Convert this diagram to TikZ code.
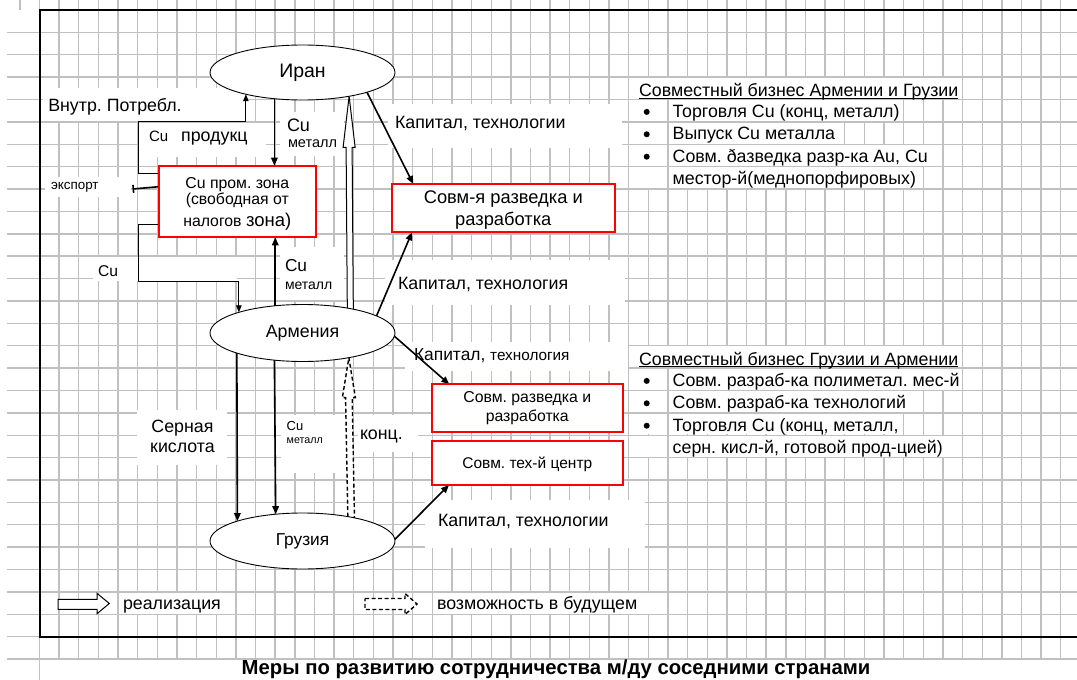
\documentclass[tikz,border=0pt]{standalone}
\usepackage{fontspec}
\setmainfont{Liberation Sans}
\usetikzlibrary{arrows.meta,shapes.geometric,calc}
\definecolor{gridc}{RGB}{192,192,192}
\definecolor{boxred}{RGB}{255,0,0}
\newcommand\fsz[1]{\fontsize{#1}{#1}\selectfont}
\newcommand\wrow[3]{\fill[white] ({#1},{10+22.38*#2+0.75}) rectangle ({#3},{10+22.38*(#2+1)-0.75});}
\pgfdeclarelayer{gridlayer}
\pgfdeclarelayer{conn}
\pgfsetlayers{gridlayer,conn,main}
\tikzset{
  gridl/.style={draw=gridc, line width=1.4pt},
  arr/.style={line width=1.6pt, -{Triangle[length=8pt,width=6.5pt]}},
  tarr/.style={line width=1pt, -{Triangle[length=7pt,width=5.5pt]}},
  blk/.style={draw=black, fill=white, line width=1pt, line join=miter},
  dblk/.style={draw=black, fill=white, line width=1.4pt, dash pattern=on 4pt off 2.5pt},
  ell/.style={ellipse, draw, line width=0.9pt, fill=white, inner sep=0pt, outer sep=0pt, minimum width=185pt},
  rbox/.style={rectangle, draw=boxred, line width=2pt, fill=white, inner sep=0pt, outer sep=0pt},
  lbl/.style={inner sep=0pt, outer sep=0pt, font=\fsz{17.8}},
}
\begin{document}
\frenchspacing
\begin{tikzpicture}[x=1pt,y=-1pt]
\useasboundingbox (0,0) rectangle (1077,680);

% ---------- nodes ----------
\node[ell, minimum height=55pt, font=\fsz{19.5}] (iran) at (302.5,72.5) {Иран};
\node[ell, minimum height=57pt, font=\fsz{17.8}] (arm) at (302.5,333) {Армения};
\node[ell, minimum height=56pt, font=\fsz{17.3}] (geo) at (302.5,541) {Грузия};
\node[rbox, minimum width=157.3pt, minimum height=71.6pt] (zone) at (237.35,201.5) {};
\node[rbox, minimum width=223.3pt, minimum height=48.3pt] (jv1) at (503.35,208.15) {};
\node[rbox, minimum width=191.3pt, minimum height=47.4pt] (jv2) at (527.35,408) {};
\node[rbox, minimum width=191.3pt, minimum height=44.3pt] (jv3) at (527.35,462.85) {};

\coordinate (kA) at (138.3,121.7);
\coordinate (kB) at (138.3,281.2);
\coordinate (expE) at (132.5,189);

% ---------- grid and cell backgrounds ----------
\begin{pgfonlayer}{gridlayer}
\fill[white] (0,0) rectangle (1077,680);
\foreach \k in {1,...,29} \draw[gridl] (7,{10+22.38*\k}) -- (1077,{10+22.38*\k});
\foreach \k in {0,...,52} \draw[gridl] ({39.5+19.64*\k},0) -- ({39.5+19.64*\k},659);
\draw[gridl] (39.5,659) -- (39.5,680);
\draw[gridl] (19.86,0) -- (19.86,10);
% text cells (right blocks)
\wrow{629.45}{3}{961.8}
\foreach \r/\e in {4/902.9,5/844.0,6/942.2,7/922.5} {\wrow{629.45}{\r}{667.25}\wrow{668.75}{\r}{\e}}
\wrow{629.45}{15}{961.8}
\foreach \r/\e in {16/961.8,17/922.5,18/902.9,19/961.8} {\wrow{629.45}{\r}{667.25}\wrow{668.75}{\r}{\e}}
% legend cells
\wrow{118.8}{26}{235.1}
\wrow{433.05}{26}{667.25}
% floating label boxes
\fill[white] (43,88) rectangle (245,121);
\fill[white] (139,122.5) rectangle (266,157);
\fill[white] (280,112) rectangle (344,156);
\fill[white] (45,176.5) rectangle (131,197);
\fill[white] (93,257) rectangle (237,281);
\fill[white] (280,247) rectangle (344,300);
\fill[white] (388,104) rectangle (622,148);
\fill[white] (385,260) rectangle (625,305);
\fill[white] (405,342) rectangle (628,371);
\fill[white] (425,500) rectangle (645,548);
\fill[white] (137,410) rectangle (227,465);
\fill[white] (281,415) rectangle (345,473);
\fill[white] (358,415) rectangle (418,452);
\end{pgfonlayer}

% ---------- connectors ----------
\begin{pgfonlayer}{conn}
\draw[line width=2pt] (1077,10) -- (39.5,10) -- (39.5,636.64) -- (1077,636.64);
\draw[arr] (iran.223.7) -- (zone.north -| iran.223.7);
\draw[arr] (arm.135.3) -- (zone.south -| arm.135.3);
\draw[tarr] ($(zone.north west)+(0,8)$) -| (kA) -| (iran.201.1);
\draw[line width=1.6pt, -{Bar[width=8pt]}] ($(zone.north west)+(0,21)$) -- (expE);
\draw[tarr] ($(zone.south west)+(0,-13)$) -| (kB) -| (arm.162.9);
\draw[arr] (iran.343.2) -- ($(jv1.north west)+(21.6,0)$);
\draw[arr] (arm.13.7) -- ($(jv1.south west)+(20.3,0)$);
\draw[arr] (arm.-2) -- ($(jv2.north west)+(17.6,0)$);
\draw[arr] (geo.1) -- ($(jv3.south west)+(17.3,0)$);
\draw[arr] (arm.197.1) -- (geo.163.2);
\draw[arr] (arm.224.7) -- (geo.135.8);
% realised: Armenia -> Iran
\coordinate (ra0) at (arm.27.24);
\coordinate (ra1) at (iran.333.6);
\draw[blk] ($(ra0)+(-3,6)$) -- ($(ra1)+(-3,51)$) -- ($(ra1)+(-6,51)$) -- (ra1) -- ($(ra1)+(6,51)$) -- ($(ra1)+(3,51)$) -- ($(ra0)+(3,6)$);
% future: Georgia -> Armenia
\coordinate (da0) at (geo.26.83);
\coordinate (da1) at (arm.332.76);
\draw[dblk] ($(da0)+(-3.3,6)$) -- ($(da1)+(-3.3,40)$) -- ($(da1)+(-6.5,40)$) -- (da1) -- ($(da1)+(6.5,40)$) -- ($(da1)+(3.3,40)$) -- ($(da0)+(3.3,6)$);
\end{pgfonlayer}

% ---------- box texts ----------
\node[lbl, font=\fsz{15.8}, anchor=base] (z1) at (237.3,188.3) {Cu пром. зона};
\node[lbl, font=\fsz{15.8}, anchor=base] (z2) at (237.3,204) {(свободная от};
\node[lbl, font=\fsz{15.8}, anchor=base] (z3) at (237.3,226.7) {налогов {\fsz{18.5}зона)}};
\node[lbl, font=\fsz{18.3}, anchor=base] (j1a) at (503.3,203.3) {Совм-я разведка и};
\node[lbl, font=\fsz{18.3}, anchor=base] (j1b) at (503.3,225) {разработка};
\node[lbl, font=\fsz{15.8}, anchor=base] (j2a) at (527.3,402) {Совм. разведка и};
\node[lbl, font=\fsz{15.8}, anchor=base] (j2b) at (527.3,421.5) {разработка};
\node[lbl, font=\fsz{15.5}, anchor=base] (j3a) at (527.3,468) {Совм. тех-й центр};

% ---------- connector labels ----------
\node[lbl, anchor=base west] (lVn) at (48.3,111) {Внутр. Потребл.};
\node[lbl, anchor=base west] (lCp) at (149,141.7) {{\fsz{15}Cu}\hspace{13pt}продукц};
\node[lbl, font=\fsz{18}, anchor=base west] (lCu1) at (287,131) {Cu};
\node[lbl, font=\fsz{14.5}, anchor=base west] (lMe1) at (288,147.3) {металл};
\node[lbl, font=\fsz{13.4}, anchor=base west] (lEx) at (51,189.3) {экспорт};
\node[lbl, font=\fsz{15.6}, anchor=base west] (lCu2) at (98,276) {Cu};
\node[lbl, font=\fsz{17.3}, anchor=base west] (lCu3) at (285,271) {Cu};
\node[lbl, font=\fsz{14}, anchor=base west] (lMe3) at (285,289.3) {металл};
\node[lbl, anchor=base west] (lK1) at (395,128.3) {Капитал, технологии};
\node[lbl, anchor=base west] (lK2) at (398,289.3) {Капитал, технология};
\node[lbl, font=\fsz{17.4}, anchor=base west] (lK3) at (414,360.5) {Капитал, {\fsz{15.3}технология}};
\node[lbl, anchor=base west] (lK4) at (438,526) {Капитал, технологии};
\node[lbl, anchor=base] (lS1) at (182.5,432.7) {Серная};
\node[lbl, anchor=base] (lS2) at (182.5,452.7) {кислота};
\node[lbl, font=\fsz{13}, anchor=base west] (lCu4) at (286.7,430) {Cu};
\node[lbl, font=\fsz{10.7}, anchor=base west] (lMe4) at (286.7,443.3) {металл};
\node[lbl, anchor=base west] (lKo) at (360,439) {конц.};

% ---------- right text blocks ----------
\node[lbl, anchor=base west] (b1t) at (639,96.7) {Совместный бизнес Армении и Грузии};
\draw[line width=1pt] ($(b1t.base west)+(0,1.6)$) -- ($(b1t.base east)+(0,1.6)$);
\node[lbl, anchor=base west] (b1a) at (672.7,117.5) {Торговля Cu (конц, металл)};
\node[lbl, anchor=base west] (b1b) at (672.7,139.9) {Выпуск Cu металла};
\node[lbl, anchor=base west] (b1c) at (672.7,162.3) {Совм. ðазведка разр-ка Au, Cu};
\node[lbl, anchor=base west] (b1d) at (672.7,184.6) {местор-й(меднопорфировых)};
\foreach \yy in {117.5,139.9,162.3} \fill (646.7,\yy-5.6) circle (3pt);

\node[lbl, anchor=base west] (b2t) at (639,365) {Совместный бизнес Грузии и Армении};
\draw[line width=1pt] ($(b2t.base west)+(0,1.6)$) -- ($(b2t.base east)+(0,1.6)$);
\node[lbl, anchor=base west] (b2a) at (672.7,386.5) {Совм. разраб-ка полиметал. мес-й};
\node[lbl, anchor=base west] (b2b) at (672.7,408.9) {Совм. разраб-ка технологий};
\node[lbl, anchor=base west] (b2c) at (672.7,431.3) {Торговля Cu (конц, металл,};
\node[lbl, anchor=base west] (b2d) at (672.7,453.6) {серн. кисл-й, готовой прод-цией)};
\foreach \yy in {386.5,408.9,431.3} \fill (646.7,\yy-5.6) circle (3pt);

% ---------- legend ----------
\draw[blk] (58,599.3) -- (97,599.3) -- (97,593.3) -- (109.3,603.5) -- (97,613.7) -- (97,609.3) -- (58,609.3) -- cycle;
\node[lbl, anchor=base west] (lg1) at (123,609.5) {реализация};
\draw[dblk] (365,598.5) -- (405,598.5) -- (405,593.5) -- (417,604) -- (405,614.5) -- (405,609.5) -- (365,609.5) -- cycle;
\node[lbl, anchor=base west] (lg2) at (437,609.5) {возможность в будущем};

% ---------- title ----------
\node[lbl, font=\fsz{20.3}\bfseries, anchor=base] (ttl) at (556,674.5) {Меры по развитию сотрудничества м/ду соседними странами};
\end{tikzpicture}
\end{document}
